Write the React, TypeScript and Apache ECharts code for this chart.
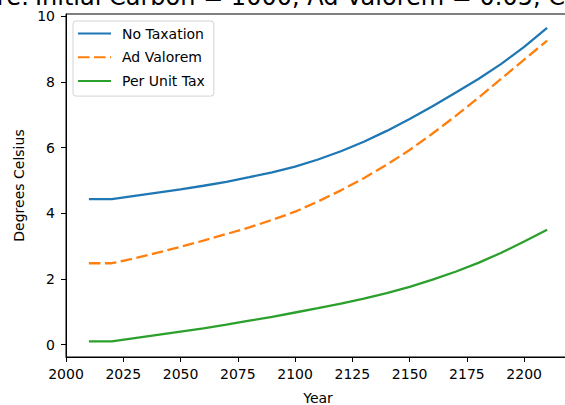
import React, { useEffect, useRef } from "react";
import * as echarts from "echarts";

const years = [2010, 2020, 2030, 2040, 2050, 2060, 2070, 2080, 2090, 2100, 2110, 2120, 2130, 2140, 2150, 2160, 2170, 2180, 2190, 2200, 2210];
const noTaxation = [4.43, 4.43, 4.53, 4.63, 4.73, 4.84, 4.96, 5.10, 5.25, 5.42, 5.64, 5.89, 6.18, 6.51, 6.87, 7.26, 7.67, 8.09, 8.55, 9.07, 9.65];
const adValorem = [2.48, 2.48, 2.63, 2.80, 2.98, 3.17, 3.37, 3.57, 3.80, 4.05, 4.36, 4.70, 5.07, 5.48, 5.93, 6.43, 6.96, 7.52, 8.10, 8.68, 9.26];
const perUnitTax = [0.10, 0.10, 0.20, 0.30, 0.40, 0.50, 0.61, 0.73, 0.85, 0.98, 1.11, 1.25, 1.40, 1.57, 1.76, 1.98, 2.22, 2.49, 2.80, 3.14, 3.50];
const seriesNames = ["No Taxation", "Ad Valorem", "Per Unit Tax"];
const xTicks = [2000, 2025, 2050, 2075, 2100, 2125, 2150, 2175, 2200];
const yTicks = [0, 2, 4, 6, 8, 10];
const titleLead = "Temperature:";
const titleText = "Initial Carbon = 1000, Ad Valorem = 0.05, C";

const FONT = "DejaVu Sans";

export default function App() {
  const ref = useRef<HTMLDivElement>(null);
  useEffect(() => {
    if (!ref.current) return;
    const chart = echarts.init(ref.current, undefined, { renderer: "svg" });
    const mk = (vals: number[]) => years.map((y, i) => [y, vals[i]]);
    const colors = ["#1f77b4", "#ff7f0e", "#2ca02c"];
    const all = [noTaxation, adValorem, perUnitTax];
    chart.setOption({
      animation: false,
      backgroundColor: "#fff",
      textStyle: { fontFamily: FONT },
      grid: {
        left: 66, top: 14, width: 504, height: 343,
        outerBoundsMode: "none", containLabel: false,
        show: true, borderColor: "#000", borderWidth: 1, backgroundColor: "transparent",
      },
      graphic: [
        { type: "text", x: 29, y: -3.5, style: { text: titleLead, fontSize: 24, fontFamily: FONT, fill: "#000", align: "right", verticalAlign: "middle" } },
        { type: "text", x: 35, y: -3.5, style: { text: titleText, fontSize: 24, fontFamily: FONT, fill: "#000", align: "left", verticalAlign: "middle" } },
      ],
      legend: {
        left: 73, top: 21, orient: "vertical",
        itemWidth: 33, itemHeight: 14, itemGap: 9.8,
        padding: [5.5, 9, 8, 4],
        backgroundColor: "#fff", borderColor: "#d3d3d3", borderWidth: 1, borderRadius: 3,
        itemStyle: { opacity: 0 },
        textStyle: { fontSize: 14, fontFamily: FONT, color: "#000", lineHeight: 14, padding: [0, 0, 0, 6] },
        data: seriesNames,
      },
      xAxis: {
        type: "value", min: 2000, max: 2220,
        name: "Year", nameLocation: "middle", nameGap: 34,
        nameTextStyle: { fontSize: 14, fontFamily: FONT, color: "#000" },
        axisLine: { onZero: false, lineStyle: { color: "#000", width: 1 } },
        axisTick: { show: true, length: 5, customValues: xTicks, lineStyle: { color: "#000", width: 1 } },
        axisLabel: { customValues: xTicks, formatter: (v: number) => String(v), fontSize: 14, fontFamily: FONT, color: "#000", margin: 10 },
        splitLine: { show: false },
      },
      yAxis: {
        type: "value", min: -0.375, max: 10.07,
        name: "Degrees Celsius", nameLocation: "middle", nameGap: 40,
        nameTextStyle: { fontSize: 14, fontFamily: FONT, color: "#000" },
        axisLine: { show: true, onZero: false, lineStyle: { color: "#000", width: 1 } },
        axisTick: { show: true, length: 5, customValues: yTicks, lineStyle: { color: "#000", width: 1 } },
        axisLabel: { customValues: yTicks, formatter: (v: number) => String(v), fontSize: 14, fontFamily: FONT, color: "#000", margin: 11 },
        splitLine: { show: false },
      },
      series: seriesNames.map((n, i) => ({
        name: n, type: "line", symbol: "none", smooth: false,
        data: mk(all[i]),
        lineStyle: { color: colors[i], width: 2.3, type: i === 1 ? [11.5, 4.5] : "solid", cap: "butt" },
        itemStyle: { color: colors[i] },
      })),
    });
    return () => chart.dispose();
  }, []);
  return <div ref={ref} style={{ position: "absolute", left: 0, top: 0, width: 565, height: 405 }} />;
}
